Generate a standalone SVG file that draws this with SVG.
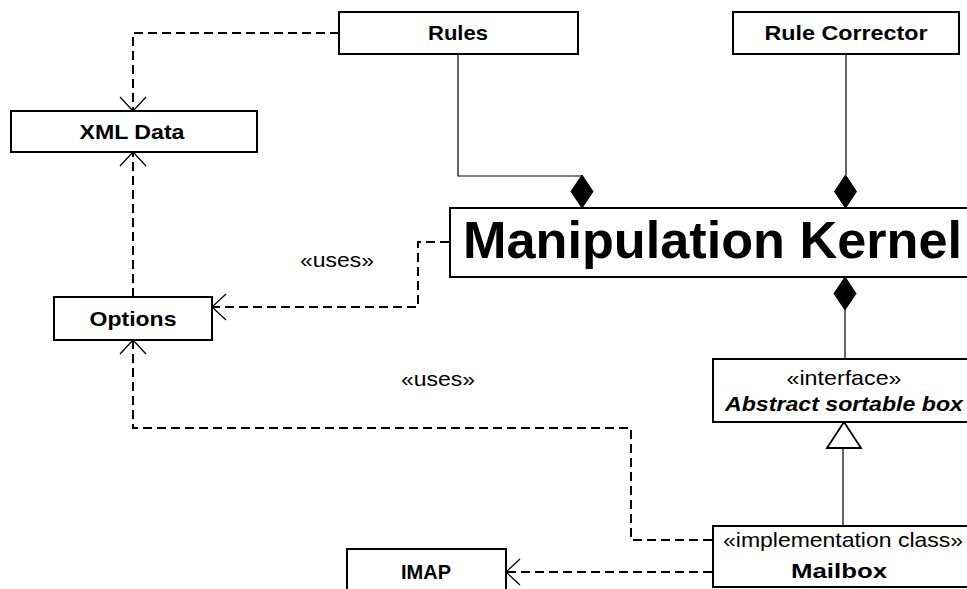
<svg xmlns="http://www.w3.org/2000/svg" width="967" height="589" viewBox="0 0 967 589">
<style>
.box{fill:#fff;stroke:#000;stroke-width:2}
.lbl{font-family:"Liberation Sans",Arial,sans-serif;font-size:21px;font-weight:bold;text-anchor:middle;fill:#000}
.st{font-family:"Liberation Sans",Arial,sans-serif;font-size:21px;text-anchor:middle;fill:#000}
.dash{fill:none;stroke:#000;stroke-width:2;stroke-dasharray:9,5}
.solid{fill:none;stroke:#000;stroke-width:1.2}
.open{fill:none;stroke:#000;stroke-width:1.2}
.dia{fill:#000;stroke:#000;stroke-width:1}
</style>
<rect width="967" height="589" fill="#fff"/>
<g id="connectors">
  <path class="dash" d="M339,33 H133 V110"/>
  <path class="open" d="M120,97 L133,111 L146,97"/>
  <path class="dash" d="M133,297 V153"/>
  <path class="open" d="M120,166 L133,152 L146,166"/>
  <path class="dash" d="M449,242 H418 V307 H213"/>
  <path class="open" d="M226,294 L212,307 L226,320"/>
  <path class="dash" d="M712,540 H631 V428 H133 V341"/>
  <path class="open" d="M120,354 L133,340 L146,354"/>
  <path class="dash" d="M712,572 H507"/>
  <path class="open" d="M520,559 L506,572 L520,585"/>
  <path class="solid" d="M458,54 V176 H582"/>
  <polygon class="dia" points="582,175 593,191.5 582,208 571,191.5"/>
  <path class="solid" d="M846,54 V175"/>
  <polygon class="dia" points="845.5,175 856.5,191.5 845.5,208 834.5,191.5"/>
  <path class="solid" d="M845,310 V359"/>
  <polygon class="dia" points="845,277 856,293.5 845,310 834,293.5"/>
  <path class="solid" d="M843,448 V526"/>
  <polygon points="844,422 861,448 827,448" fill="#fff" stroke="#000" stroke-width="1.8"/>
  <text class="st" x="337" y="267" textLength="74" lengthAdjust="spacingAndGlyphs">«uses»</text>
  <text class="st" x="438" y="386" textLength="74" lengthAdjust="spacingAndGlyphs">«uses»</text>
</g>
<g id="rules">
  <rect class="box" x="339" y="12" width="239" height="42"/>
  <text class="lbl" x="458" y="40" textLength="60" lengthAdjust="spacingAndGlyphs">Rules</text>
</g>
<g id="rule-corrector">
  <rect class="box" x="733" y="12" width="226" height="42"/>
  <text class="lbl" x="846" y="40" textLength="163" lengthAdjust="spacingAndGlyphs">Rule Corrector</text>
</g>
<g id="xml-data">
  <rect class="box" x="11" y="111" width="246" height="41"/>
  <text class="lbl" x="132" y="139" textLength="105" lengthAdjust="spacingAndGlyphs">XML Data</text>
</g>
<g id="options">
  <rect class="box" x="54" y="297" width="158" height="43"/>
  <text class="lbl" x="133" y="326" textLength="87" lengthAdjust="spacingAndGlyphs">Options</text>
</g>
<g id="kernel">
  <rect class="box" x="450" y="208" width="540" height="69"/>
  <text x="463" y="258" font-family="Liberation Sans, Arial, sans-serif" font-size="52" font-weight="bold" fill="#000" textLength="499" lengthAdjust="spacingAndGlyphs">Manipulation Kernel</text>
</g>
<g id="interface">
  <rect class="box" x="713" y="359" width="280" height="63"/>
  <text class="st" x="844" y="385" textLength="115" lengthAdjust="spacingAndGlyphs">«interface»</text>
  <text class="lbl" x="844" y="411" font-style="italic" textLength="238" lengthAdjust="spacingAndGlyphs">Abstract sortable box</text>
</g>
<g id="mailbox">
  <rect class="box" x="713" y="526" width="280" height="61"/>
  <text class="st" x="843" y="547" textLength="240" lengthAdjust="spacingAndGlyphs">«implementation class»</text>
  <text class="lbl" x="839" y="578" textLength="96" lengthAdjust="spacingAndGlyphs">Mailbox</text>
</g>
<g id="imap">
  <rect class="box" x="347" y="549" width="159" height="50"/>
  <text class="lbl" x="426" y="579" textLength="50" lengthAdjust="spacingAndGlyphs">IMAP</text>
</g>
</svg>
